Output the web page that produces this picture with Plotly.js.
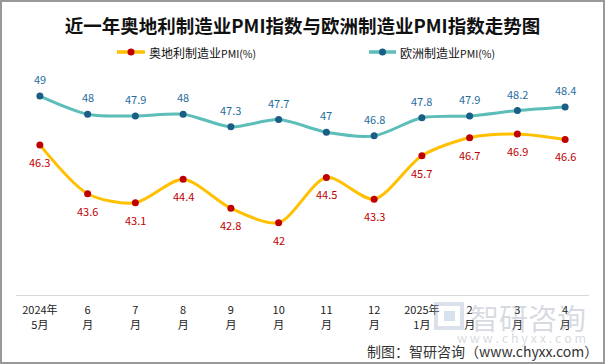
<!DOCTYPE html>
<html><head><meta charset="utf-8">
<script src="https://cdn.plot.ly/plotly-3.0.1.min.js"></script>
<style>html,body{margin:0;padding:0;background:#fff}#c{width:605px;height:364px}</style>
</head><body><div id="c"></div>
<script>
const categories = ["2024年<br>5月","6<br>月","7<br>月","8<br>月","9<br>月","10<br>月","11<br>月","12<br>月","2025年<br>1月","2<br>月","3<br>月","4<br>月"];
const austria = [46.3,43.6,43.1,44.4,42.8,42,44.5,43.3,45.7,46.7,46.9,46.6];
const europe = [49,48,47.9,48,47.3,47.7,47,46.8,47.8,47.9,48.2,48.4];
const seriesNames = ["奥地利制造业", "欧洲制造业"];
const font = "'Noto Sans CJK SC', 'Microsoft YaHei', sans-serif";
const idx = categories.map((_, i) => i);
const M = {l: 16, r: 16, t: 78, b: 69};
const PW = 605 - M.l - M.r, PH = 364 - M.t - M.b;
const px = v => (v - M.l) / PW;
const py = v => (364 - M.b - v) / PH;
const colors = {aLine: "#FFC000", aMark: "#C00000", eLine: "#5CBDB9", eMark: "#1A5E85"};
const traces = [
 {x: idx, y: austria, name: seriesNames[0] + "PMI(%)", type: "scatter", mode: "lines+markers",
  line: {color: colors.aLine, width: 3, shape: "spline", smoothing: 0.8},
  marker: {color: colors.aMark, size: 7}},
 {x: idx, y: europe, name: seriesNames[1] + "PMI(%)", type: "scatter", mode: "lines+markers",
  line: {color: colors.eLine, width: 3, shape: "spline", smoothing: 0.8},
  marker: {color: colors.eMark, size: 7}}
];
const labels = [];
austria.forEach((v, i) => labels.push({x: i, y: v, xref: "x", yref: "y", text: String(v), showarrow: false,
  yshift: -17, font: {size: 11, family: font, color: "#C00000"}}));
europe.forEach((v, i) => labels.push({x: i, y: v, xref: "x", yref: "y", text: String(v), showarrow: false,
  yshift: 17, font: {size: 11, family: font, color: "#1F6E9E"}}));
// manual legend
const legendItems = [
 {x0: 117, x1: 145, tx: 147, line: colors.aLine, mark: colors.aMark, name: seriesNames[0]},
 {x0: 369, x1: 396, tx: 398, line: colors.eLine, mark: colors.eMark, name: seriesNames[1]}
];
const ly = 52;
const shapes = [
 {type: "rect", xref: "paper", yref: "paper", x0: px(1), x1: px(604), y0: py(363), y1: py(1),
  line: {color: "#999", width: 2}, fillcolor: "rgba(0,0,0,0)"},
 // watermark logo
 {type: "rect", xref: "paper", yref: "paper", x0: px(436), x1: px(462), y0: py(328), y1: py(304),
  line: {color: "rgba(150,170,195,0.35)", width: 4}, fillcolor: "rgba(0,0,0,0)"},
 {type: "rect", xref: "paper", yref: "paper", x0: px(444), x1: px(455), y0: py(321), y1: py(311),
  line: {width: 0}, fillcolor: "rgba(120,160,200,0.3)"}
];
legendItems.forEach(it => {
  shapes.push({type: "line", xref: "paper", yref: "paper", x0: px(it.x0), x1: px(it.x1), y0: py(ly), y1: py(ly),
    line: {color: it.line, width: 3.5}});
  const cx = (it.x0 + it.x1) / 2;
  shapes.push({type: "circle", xref: "paper", yref: "paper", x0: px(cx - 3.5), x1: px(cx + 3.5), y0: py(ly + 3.5), y1: py(ly - 3.5),
    line: {width: 0}, fillcolor: it.mark});
  labels.push({text: it.name + "<span style='font-size:10.5px'>PMI(%)</span>", xref: "paper", yref: "paper",
    x: px(it.tx), y: py(ly), xanchor: "left", yanchor: "middle", showarrow: false,
    font: {size: 12, family: font, color: "#111"}});
});
const layout = {
 width: 605, height: 364,
 margin: M,
 paper_bgcolor: "#fff", plot_bgcolor: "#fff",
 showlegend: false,
 title: {text: "<b>近一年奥地利制造业PMI指数与欧洲制造业PMI指数走势图</b>", x: 0.5, xanchor: "center", y: 0.945,
  font: {size: 18.5, family: font, color: "#111"}},
 xaxis: {range: [-0.5, 11.5], tickmode: "array", tickvals: idx, ticktext: categories,
  showgrid: false, zeroline: false, showline: true, linecolor: "#d9d9d9", linewidth: 1,
  ticks: "", ticklabelstandoff: 5, tickfont: {size: 11, family: font, color: "#222"}, fixedrange: true},
 yaxis: {range: [38, 50], visible: false, showgrid: false, zeroline: false, fixedrange: true},
 shapes: shapes,
 annotations: labels.concat([
  {text: "智研咨询", xref: "paper", yref: "paper", x: px(588), y: py(317), xanchor: "right", yanchor: "middle",
   showarrow: false, font: {size: 29, family: font, color: "rgba(150,160,175,0.38)"}},
  {text: "w w w . c h y x x . c o m", xref: "paper", yref: "paper", x: px(588), y: py(337), xanchor: "right", yanchor: "middle",
   showarrow: false, font: {size: 12.5, family: font, color: "rgba(150,160,175,0.4)"}},
  {text: "制图：智研咨询（www.chyxx.com）", xref: "paper", yref: "paper", x: px(600), y: py(351), xanchor: "right", yanchor: "middle",
   showarrow: false, font: {size: 14, family: font, color: "#333"}}
 ])
};
Plotly.newPlot("c", traces, layout, {displayModeBar: false, staticPlot: true});
</script></body></html>
